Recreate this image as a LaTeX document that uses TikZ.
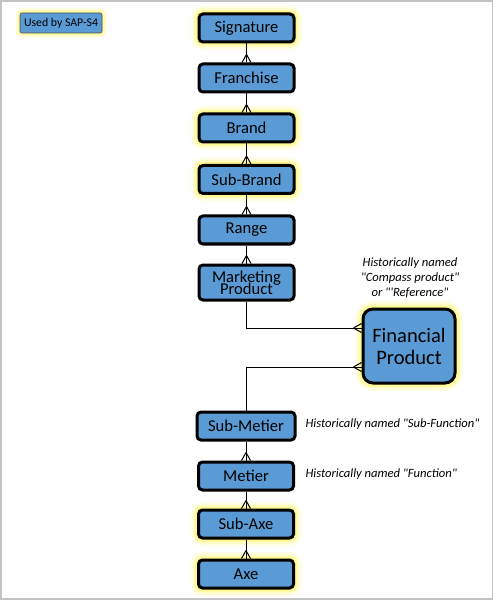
\documentclass[tikz,border=0pt]{standalone}
\usepackage{fontspec}
\setmainfont{Carlito}
\usetikzlibrary{arrows.meta,positioning}
\definecolor{boxblue}{HTML}{5B9BD5}
\definecolor{glowyellow}{HTML}{FFF200}
\definecolor{framegray}{HTML}{C3C3C3}
% crow's foot at the child end
\pgfdeclarearrow{
  name = Crow,
  parameters = {\the\pgfarrowlength,\the\pgfarrowwidth},
  setup code = {
    \pgfarrowssettipend{0pt}
    \pgfarrowssetlineend{0pt}
    \pgfarrowssetbackend{-\pgfarrowlength}
    \pgfarrowssavethe\pgfarrowlength
    \pgfarrowssavethe\pgfarrowwidth
  },
  drawing code = {
    \pgfpathmoveto{\pgfqpoint{-\pgfarrowlength}{0pt}}
    \pgfpathlineto{\pgfqpoint{0pt}{.5\pgfarrowwidth}}
    \pgfpathmoveto{\pgfqpoint{-\pgfarrowlength}{0pt}}
    \pgfpathlineto{\pgfqpoint{0pt}{-.5\pgfarrowwidth}}
    \pgfusepathqstroke
  },
  defaults = {length=8pt, width=9pt}
}
\tikzset{
  entity/.style={rectangle,rounded corners=4pt,draw=black,line width=3pt,fill=boxblue,
    minimum width=95pt,minimum height=28pt,inner sep=1pt,font=\fontsize{16.6}{12}\selectfont},
  glow/.style={preaction={draw=glowyellow,draw opacity=0.10,line width=16pt},
    preaction={draw=glowyellow,draw opacity=0.15,line width=11pt},
    preaction={draw=glowyellow,draw opacity=0.25,line width=7pt}},
  link/.style={draw=black,line width=1pt,-{Crow[line width=0.8pt]}},
  note/.style={font=\fontsize{12.6}{15}\selectfont\itshape,align=center}
}
\newcommand{\dq}{\textquotedbl}
\begin{document}
\begin{tikzpicture}[x=1pt,y=-1pt]
\useasboundingbox (0,0) rectangle (494,601);
\draw[framegray,line width=1.2pt] (1,1) rectangle (492.5,599);
%
\node (legend) [rectangle,rounded corners=2pt,draw=black!70,line width=0.6pt,fill=boxblue,
  minimum width=82pt,minimum height=20pt,inner sep=1pt,font=\fontsize{11.8}{12}\selectfont,
  preaction={draw=glowyellow,draw opacity=0.15,line width=9pt},
  preaction={draw=glowyellow,draw opacity=0.25,line width=5pt}] at (61,23) {Used by SAP-S4};
%
\node (sig) [entity,glow] at (246.5,28) {Signature};
\node (fra) [entity] at (246.5,78) {Franchise};
\node (bra) [entity,glow] at (246.5,128) {Brand};
\node (sbr) [entity,glow] at (246.5,179.5) {Sub-Brand};
\node (ran) [entity] at (246.5,230) {Range};
\node (mkp) [entity,minimum height=35pt,align=center] at (246.5,282.5) {Marketing\\[-3pt]Product};
\node (fin) [entity,glow,rounded corners=10pt,minimum width=92pt,minimum height=74pt,
  align=center,font=\fontsize{20.5}{22}\selectfont] at (409,346) {Financial\\Product};
\node (smt) [entity,minimum width=98pt] at (246,426) {Sub-Metier};
\node (met) [entity] at (246,476) {Metier};
\node (sax) [entity,glow] at (246,524) {Sub-Axe};
\node (axe) [entity,glow] at (246,574) {Axe};
%
\node (fnote) [note] at (410,278) {Historically named\\\dq Compass product\dq\\or \dq\textquotesingle Reference\dq};
\node (snote) [note,anchor=west] at (302,424) {Historically named \dq Sub-Function\dq};
\node (mnote) [note,anchor=west] at (302,474) {Historically named \dq Function\dq};
%
\path[link] (sig) edge (fra);
\path[link] (fra) edge (bra);
\path[link] (bra) edge (sbr);
\path[link] (sbr) edge (ran);
\path[link] (ran) edge (mkp);
\draw[link] (mkp.south) |- ([yshift=18pt]fin.west);
\draw[link] (smt.north) |- ([yshift=-21pt]fin.west);
\path[link] (smt) edge (met);
\path[link] (met) edge (sax);
\path[link] (sax) edge (axe);
\end{tikzpicture}
\end{document}
